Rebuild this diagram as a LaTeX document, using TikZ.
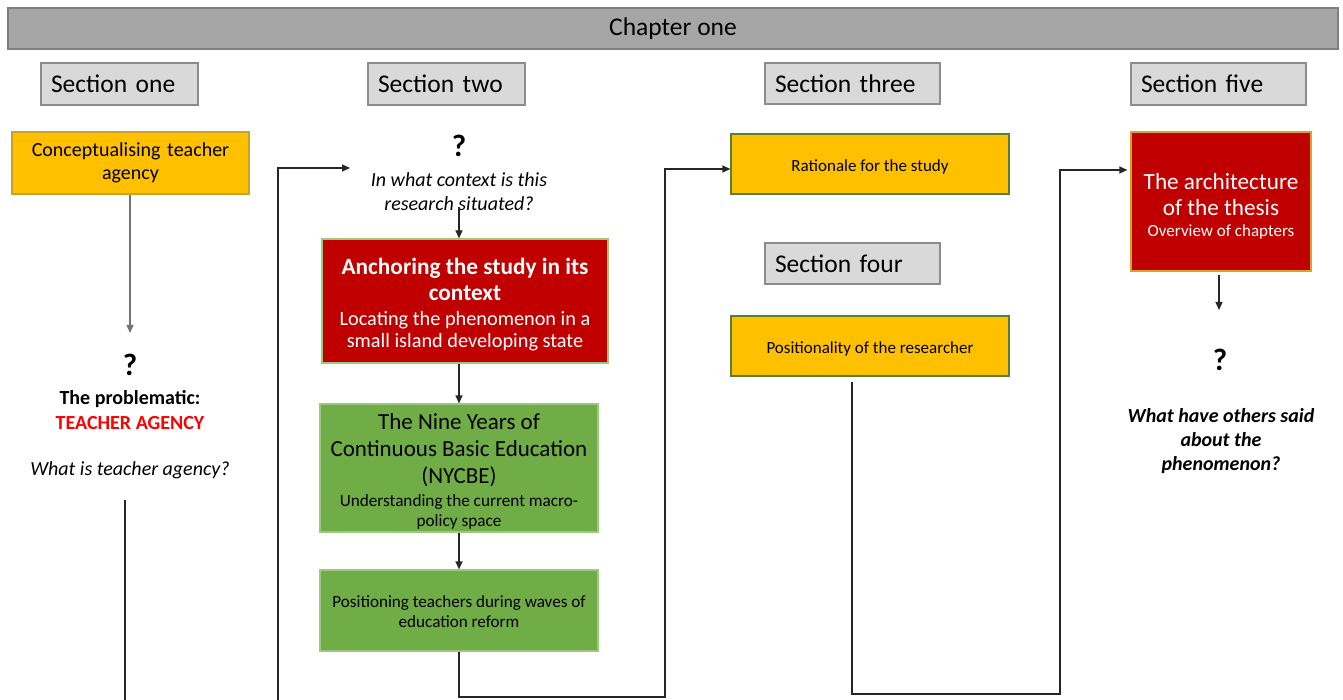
\documentclass[tikz,border=0pt]{standalone}
\usepackage{fontspec}
\setmainfont{Carlito}
\usetikzlibrary{arrows.meta,calc}
\definecolor{chapfill}{HTML}{A6A6A6}
\definecolor{chapdraw}{HTML}{7F7F7F}
\definecolor{secfill}{HTML}{D9D9D9}
\definecolor{secdraw}{HTML}{8C8C8C}
\definecolor{yel}{HTML}{FFC000}
\definecolor{yeldraw}{HTML}{C9A227}
\definecolor{redbox}{HTML}{C00000}
\definecolor{grn}{HTML}{70AD47}
\definecolor{grndark}{HTML}{548235}
\definecolor{grnlight}{HTML}{9CC97E}
\definecolor{archdraw}{HTML}{D9A520}
\definecolor{alarm}{HTML}{FF0000}
\newcommand{\fsz}[2]{\fontsize{#1pt}{#2pt}\selectfont}
\tikzset{
  secbox/.style={draw=secdraw, fill=secfill, line width=1.5pt, minimum height=42pt,
    text width=#1, align=left, inner xsep=10pt, font=\fsz{25.5}{28}},
  box/.style={line width=1.2pt, inner sep=0pt},
  plain/.style={align=center, inner sep=0pt},
  conn/.style={line width=1.2pt, draw=black!85},
  arr/.style={conn, -{Triangle[length=8pt,width=7pt]}},
}
\begin{document}
\begin{tikzpicture}[x=1pt,y=-1pt]
\useasboundingbox (0,0) rectangle (1343,700);
% chapter bar
\node[draw=chapdraw, fill=chapfill, line width=1.5pt, minimum width=1330pt, minimum height=41pt,
  font=\fsz{25.5}{28}] (chap) at (673,28.5) {Chapter one};
% section headers
\node[secbox=137pt, minimum width=157pt] (s1) at (119.5,84) {Section one};
\node[secbox=137pt, minimum width=157pt] (s2) at (446.5,84) {Section two};
\node[secbox=155pt, minimum width=175pt, minimum height=41pt] (s3) at (852.5,83.5) {Section three};
\node[secbox=155pt, minimum width=175pt, minimum height=41pt] (s4) at (852.5,263.5) {Section four};
\node[secbox=155pt, minimum width=175pt] (s5) at (1218.5,84) {Section five};

% column one
\node[box, draw=yeldraw, fill=yel, minimum width=237pt, minimum height=62pt,
  text width=225pt, align=center, font=\fsz{20}{23.5}] (concept) at (130.5,163)
  {Conceptualising teacher\\agency};
\coordinate (a1end) at (130,333);
\draw[arr, draw=black!55] (concept.south -| a1end) -- (a1end);
\node[plain, font=\bfseries\fsz{31}{31}] (q1) at (130,365) {?};
\node[plain, font=\bfseries\fsz{20}{25}] (prob) at (130,410.5) {The problematic:\\\textcolor{alarm}{TEACHER AGENCY}};
\node[plain, font=\itshape\fsz{20}{24}] (what1) at (130,470) {What is teacher agency?};
\coordinate (c1a) at (125,500);
\coordinate (c1b) at (125,700);
\draw[conn] (c1a) -- (c1b);

% column two
\coordinate (l2a) at (278,700);
\coordinate (l2b) at (278,168);
\coordinate (l2c) at (350,168);
\draw[arr] (l2a) -- (l2b) -- (l2c);
\node[plain, font=\bfseries\fsz{31}{31}] (q2) at (459,146) {?};
\node[plain, font=\itshape\fsz{20}{24}] (ctx) at (459,192) {In what context is this\\research situated?};
\node[box, draw=grnlight, fill=redbox, minimum width=286pt, minimum height=124pt] (anchor) at (465,301) {};
\node[plain, text=white, font=\bfseries\fsz{23.3}{26.5}] (anchorT) at (465,279.5)
  {Anchoring the study in its\\context};
\node[plain, text=white, font=\fsz{20.3}{21.7}] (anchorS) at (465,331.5)
  {Locating the phenomenon in a\\small island developing state};
\coordinate (a2s) at (459,207);
\draw[arr] (a2s) -- (a2s |- anchor.north);
\node[box, draw=grnlight, fill=grn, minimum width=278pt, minimum height=128pt] (nycbe) at (459,468) {};
\node[plain, font=\fsz{23}{27}] (nycbeT) at (459,450)
  {The Nine Years of\\Continuous Basic Education\\(NYCBE)};
\node[plain, font=\fsz{17.2}{20}] (nycbeS) at (459,512)
  {Understanding the current macro-\\policy space};
\draw[arr] (nycbe.north |- anchor.south) -- (nycbe.north);
\node[box, draw=grnlight, fill=grn, minimum width=278pt, minimum height=81pt] (post) at (459,610.5) {};
\node[plain, font=\fsz{17.1}{20}] (postT) at (459,611.5)
  {Positioning teachers during waves of\\education reform};
\draw[arr] (nycbe.south) -- (post.north);

% column three / four
\node[box, draw=grndark, fill=yel, minimum width=278pt, minimum height=60pt] (rat) at (870,164) {};
\node[plain, font=\fsz{17}{20}] (ratT) at (870,167) {Rationale for the study};
\node[box, draw=grndark, fill=yel, minimum width=278pt, minimum height=60pt] (posr) at (870,346) {};
\node[plain, font=\fsz{17}{20}] (posrT) at (870,348.7) {Positionality of the researcher};
\coordinate (j1) at (459,697);
\coordinate (j2) at (665,697);
\coordinate (j3) at (665,169);
\draw[arr] (post.south) -- (j1) -- (j2) -- (j3) -- (j3 -| rat.west);

% column five
\node[box, draw=archdraw, fill=redbox, minimum width=180pt, minimum height=139pt] (arch) at (1221,201.5) {};
\node[plain, text=white, font=\fsz{23.2}{26.7}] (archT) at (1221,194.5) {The architecture\\of the thesis};
\node[plain, text=white, font=\fsz{17}{20}] (archS) at (1221,232) {Overview of chapters};
\coordinate (k1) at (852,382);
\coordinate (k2) at (852,694);
\coordinate (k3) at (1060,694);
\coordinate (k4) at (1060,170);
\draw[arr] (k1) -- (k2) -- (k3) -- (k4) -- ($(k4 -| arch.west)+(-3,0)$);
\coordinate (a5s) at (1219,275);
\coordinate (a5e) at (1219,310);
\draw[arr] (a5s) -- (a5e);
\node[plain, font=\bfseries\fsz{31}{31}] (q5) at (1220,360) {?};
\node[plain, font=\bfseries\itshape\fsz{20}{24}] (others) at (1221,441)
  {What have others said\\about the\\phenomenon?};
\end{tikzpicture}
\end{document}
